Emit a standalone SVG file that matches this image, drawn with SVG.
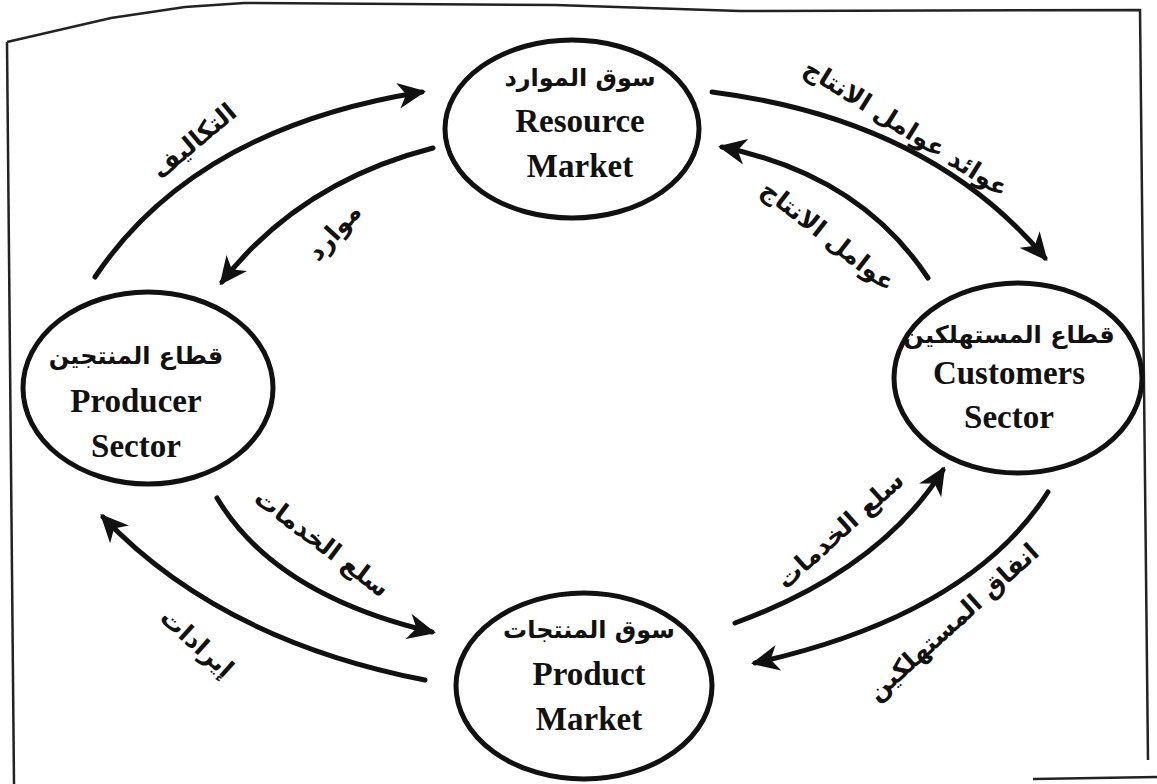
<svg xmlns="http://www.w3.org/2000/svg" width="1157" height="784" viewBox="0 0 1157 784">
<style>
.frame{fill:none;stroke:#222;stroke-width:2.5}
.node{fill:none;stroke:#111;stroke-width:5}
.en{font-family:"Liberation Serif","Times New Roman",serif;font-weight:bold;font-size:33px;fill:#111;text-anchor:middle}
.ar{font-family:"DejaVu Sans",sans-serif;font-weight:bold;font-size:24px;fill:#111;text-anchor:middle}
.lbl{font-family:"DejaVu Sans",sans-serif;font-weight:bold;font-size:25px;fill:#111;text-anchor:middle;dominant-baseline:central}
.conn{fill:none;stroke:#111;stroke-width:5;stroke-linecap:round;marker-end:url(#ah)}
</style>
<defs>
<marker id="ah" markerUnits="userSpaceOnUse" markerWidth="28" markerHeight="26" viewBox="0 0 28 26" refX="24" refY="13" orient="auto">
<path d="M0,0 L28,13 L0,26 L8,13 z" fill="#111"/>
</marker>
</defs>
<rect width="1157" height="784" fill="#fff"/>
<path class="frame" d="M7,42 L111,18 L185,7 L244,3 L555,5 L740,11 L1140,10 L1148,760"/>
<path class="frame" d="M7,42 L14,784"/>
<path class="frame" d="M1033,779 L1157,777"/>
<g id="resource-market">
<ellipse class="node" cx="572" cy="129" rx="127" ry="89"/>
<text class="ar" x="580" y="86">سوق الموارد</text>
<text class="en" x="580" y="132">Resource</text>
<text class="en" x="580" y="177">Market</text>
</g>
<g id="producer-sector">
<ellipse class="node" cx="148" cy="388" rx="125" ry="96"/>
<text class="ar" x="136" y="364">قطاع المنتجين</text>
<text class="en" x="136" y="412">Producer</text>
<text class="en" x="136" y="457">Sector</text>
</g>
<g id="customers-sector">
<ellipse class="node" cx="1018" cy="378" rx="124" ry="95"/>
<text class="ar" x="1009" y="343">قطاع المستهلكين</text>
<text class="en" x="1009" y="384">Customers</text>
<text class="en" x="1009" y="428">Sector</text>
</g>
<g id="product-market">
<ellipse class="node" cx="584" cy="686" rx="128" ry="93"/>
<text class="ar" x="589" y="638">سوق المنتجات</text>
<text class="en" x="589" y="685">Product</text>
<text class="en" x="589" y="730">Market</text>
</g>
<g id="connectors">
<path class="conn" d="M95,277 Q195,128 422,92"/>
<path class="conn" d="M433,148 Q300,182 222,282"/>
<path class="conn" d="M712,92 Q930,120 1045,258"/>
<path class="conn" d="M928,278 Q860,175 722,147"/>
<path class="conn" d="M217,498 Q275,595 432,632"/>
<path class="conn" d="M425,680 Q220,640 103,517"/>
<path class="conn" d="M735,623 Q880,570 943,470"/>
<path class="conn" d="M1048,492 Q970,615 755,663"/>
<text class="lbl" transform="translate(194,141) rotate(-40)">التكاليف</text>
<text class="lbl" transform="translate(334,232) rotate(-48)">موارد</text>
<text class="lbl" transform="translate(906,128) rotate(32)">عوائد عوامل الانتاج</text>
<text class="lbl" transform="translate(828,236) rotate(38)">عوامل الانتاج</text>
<text class="lbl" transform="translate(322,543) rotate(37)">سلع الخدمات</text>
<text class="lbl" transform="translate(197,643) rotate(42)">إيرادات</text>
<text class="lbl" transform="translate(840,530) rotate(-42)">سلع الخدمات</text>
<text class="lbl" transform="translate(953,622) rotate(-42)">انفاق المستهلكين</text>
</g>
</svg>
